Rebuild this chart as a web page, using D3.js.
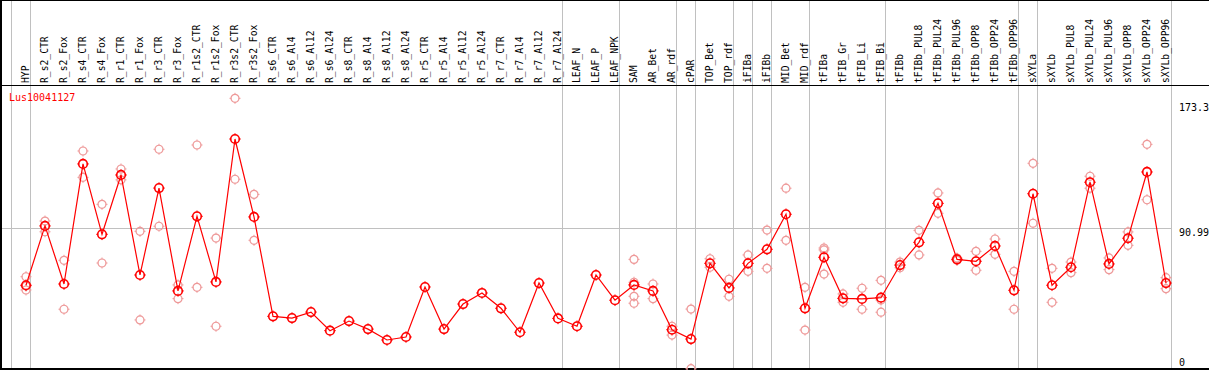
<!DOCTYPE html>
<html>
<head>
<meta charset="utf-8">
<script src="https://cdn.jsdelivr.net/npm/d3@7"></script>
<style>
  body { margin: 0; background: #fff; }
  svg text { font-family: "DejaVu Sans Mono", monospace; }
</style>
</head>
<body>
<div id="chart"></div>
<script>
const samples = ["HYP", "R_s2_CTR", "R_s2_Fox", "R_s4_CTR", "R_s4_Fox", "R_r1_CTR", "R_r1_Fox",
  "R_r3_CTR", "R_r3_Fox", "R_r1s2_CTR", "R_r1s2_Fox", "R_r3s2_CTR", "R_r3s2_Fox",
  "R_s6_CTR", "R_s6_Al4", "R_s6_Al12", "R_s6_Al24", "R_s8_CTR", "R_s8_Al4", "R_s8_Al12",
  "R_s8_Al24", "R_r5_CTR", "R_r5_Al4", "R_r5_Al12", "R_r5_Al24", "R_r7_CTR", "R_r7_Al4",
  "R_r7_Al12", "R_r7_Al24", "LEAF_N", "LEAF_P", "LEAF_NPK", "SAM", "AR_Bet", "AR_rdf",
  "cPAR", "TOP_Bet", "TOP_rdf", "iFIBa", "iFIBb", "MID_Bet", "MID_rdf", "tFIBa", "tFIB_Gr",
  "tFIB_Li", "tFIB_Bi", "tFIBb", "tFIBb_PUL8", "tFIBb_PUL24", "tFIBb_PUL96", "tFIBb_OPP8",
  "tFIBb_OPP24", "tFIBb_OPP96", "sXYLa", "sXYLb", "sXYLb_PUL8", "sXYLb_PUL24", "sXYLb_PUL96",
  "sXYLb_OPP8", "sXYLb_OPP24", "sXYLb_OPP96"];

// mean expression per sample
const means = [54.8, 92.4, 55.6, 131.7, 87.1, 124.7, 61.3, 116.4, 51.2, 98.5, 56.9, 147.5, 98.1,
  35.1, 34.0, 37.8, 26.0, 32.1, 27.0, 20.1, 22.0, 53.7, 27.0, 42.9, 49.9, 40.2, 25.0,
  56.2, 33.8, 28.8, 61.3, 45.3, 55.0, 51.2, 26.6, 20.7, 68.7, 53.1, 68.7, 77.6, 99.8,
  40.2, 72.5, 46.5, 46.1, 46.9, 67.6, 82.0, 106.7, 71.2, 70.0, 79.7, 51.6, 112.8, 54.8,
  66.2, 120.1, 68.3, 84.6, 126.6, 56.2];

// individual replicates per sample
const replicates = [
  [60.2, 54.3, 51.8], [95.5, 88.7], [70.6, 39.6], [139.9, 123.2], [106.1, 68.9],
  [128.5, 121.6], [89.0, 32.8], [141.0, 92.2], [55.0, 46.3], [143.7, 53.5],
  [84.7, 28.8], [173.3, 122.0], [112.4, 83.3],
  [], [], [], [], [], [], [], [], [], [], [], [], [], [], [], [], [], [], [],
  [71.2, 56.7, 47.8, 43.4], [55.6, 46.3], [28.8, 23.2], [39.7, 1.9], [71.6, 66.2],
  [58.6, 47.8], [74.0, 63.6], [89.8, 65.5], [116.3, 83.3], [53.5, 26.4],
  [78.4, 77.2, 61.9], [49.3, 44.0], [52.9, 39.6], [57.9, 45.4, 37.7], [69.5, 65.9],
  [89.6, 74.0], [113.3, 100.4], [72.0, 70.6], [76.3, 64.3], [84.1, 74.4], [63.6, 39.6],
  [132.1, 94.1], [65.5, 44.0], [69.5, 62.8], [123.9, 116.3], [72.1, 64.7], [88.6, 80.1],
  [144.1, 109.0], [59.6, 52.6]
];

// separator lines drawn before these samples (plus one after the last)
const groupStarts = ["HYP", "R_s2_CTR", "LEAF_N", "SAM", "cPAR", "TOP_Bet", "iFIBa", "iFIBb",
  "MID_Bet", "tFIBa", "tFIBb", "sXYLa", "sXYLb"];

const geneName = "Lus10041127";
const tickValues = [173.3, 90.99, 0];
const tickLabels = ["173.3", "90.99", "0"];

const width = 1209, height = 370;
const headerBottom = 85;

const svg = d3.select("#chart").append("svg")
  .attr("width", width)
  .attr("height", height);

const x = d3.scalePoint().domain(samples).range([26, 26 + 19 * (samples.length - 1)]);
const step = x.step();
const y = d3.scaleLinear().domain([0, 173.3]).range([371.7, 98.3]);
const plotRight = x(samples[samples.length - 1]) + step - 14.5;

// group separators
const sepX = groupStarts.map(s => Math.round(x(s) - 15) + 0.5);
sepX.push(Math.round(plotRight) + 0.5);
svg.append("g").selectAll("line")
  .data(sepX)
  .enter().append("line")
  .attr("x1", d => d).attr("x2", d => d)
  .attr("y1", 0).attr("y2", height)
  .attr("stroke", "#c0c0c0").attr("stroke-width", 1);

// middle grid line
svg.append("line")
  .attr("x1", 0).attr("x2", Math.round(plotRight))
  .attr("y1", Math.round(y(90.99)) + 0.5).attr("y2", Math.round(y(90.99)) + 0.5)
  .attr("stroke", "#c0c0c0").attr("stroke-width", 1);

// frame
svg.append("line").attr("x1", 0).attr("x2", width).attr("y1", 0.5).attr("y2", 0.5)
  .attr("stroke", "#000").attr("stroke-width", 1);
svg.append("line").attr("x1", 0).attr("x2", width).attr("y1", headerBottom + 0.5).attr("y2", headerBottom + 0.5)
  .attr("stroke", "#000").attr("stroke-width", 1);
svg.append("line").attr("x1", 1).attr("x2", 1).attr("y1", 0).attr("y2", height)
  .attr("stroke", "#000").attr("stroke-width", 2);
svg.append("line").attr("x1", 0).attr("x2", width).attr("y1", height - 1).attr("y2", height - 1)
  .attr("stroke", "#000").attr("stroke-width", 2);

// column labels
svg.append("g").selectAll("text")
  .data(samples)
  .enter().append("text")
  .attr("transform", d => "translate(" + x(d) + "," + (headerBottom - 2) + ") rotate(-90)")
  .attr("dy", "0.35em")
  .attr("font-size", "9.7px")
  .attr("fill", "#000")
  .text(d => d);

// right axis labels
svg.append("g").selectAll("text")
  .data(tickValues)
  .enter().append("text")
  .attr("x", 1179)
  .attr("y", (d, i) => i === 0 ? y(d) + 13 : i === 1 ? y(d) + 8 : y(d) - 6)
  .attr("font-size", "10px")
  .attr("fill", "#000")
  .text((d, i) => tickLabels[i]);

// gene title
svg.append("text")
  .attr("x", 9).attr("y", 101)
  .attr("font-size", "10px")
  .attr("fill", "red")
  .text(geneName);

function marker(g, r, color, sw) {
  g.append("circle").attr("r", r).attr("fill", "none")
    .attr("stroke", color).attr("stroke-width", sw);
  [[0, -1], [0, 1], [-1, 0], [1, 0]].forEach(([dx, dy]) => {
    g.append("line")
      .attr("x1", dx * (r - 0.5)).attr("y1", dy * (r - 0.5))
      .attr("x2", dx * (r + 1.5)).attr("y2", dy * (r + 1.5))
      .attr("stroke", color).attr("stroke-width", 1);
  });
}

// replicate points
const repData = [];
replicates.forEach((vals, i) => vals.forEach(v => repData.push({ s: samples[i], v: v })));
svg.append("g").selectAll("g")
  .data(repData)
  .enter().append("g")
  .attr("transform", d => "translate(" + x(d.s) + "," + y(d.v) + ")")
  .each(function() { marker(d3.select(this), 4, "#ee9999", 1.2); });

// mean line
const line = d3.line().x((d, i) => x(samples[i])).y(d => y(d));
svg.append("path")
  .datum(means)
  .attr("d", line)
  .attr("fill", "none")
  .attr("stroke", "red")
  .attr("stroke-width", 1.2);

// mean points
svg.append("g").selectAll("g")
  .data(means)
  .enter().append("g")
  .attr("transform", (d, i) => "translate(" + x(samples[i]) + "," + y(d) + ")")
  .each(function() { marker(d3.select(this), 4.3, "red", 1.6); });
</script>
</body>
</html>
